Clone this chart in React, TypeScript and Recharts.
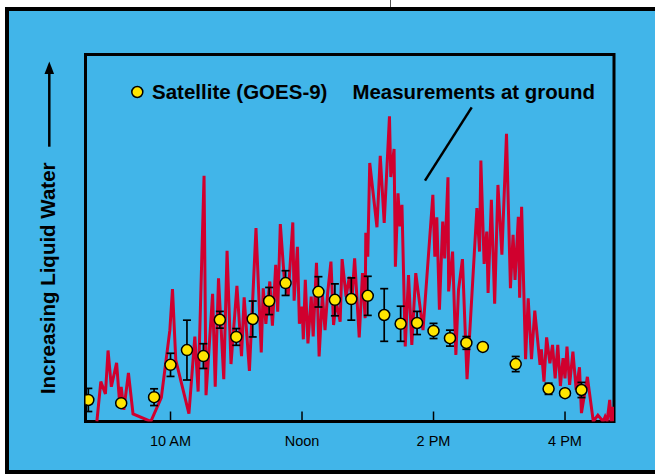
import { ComposedChart, Line, Scatter, ErrorBar, XAxis, YAxis, ReferenceArea } from 'recharts';

// ground measurements (hour of day, relative liquid water)
const groundHours = [
  8.88, 8.94, 9.01, 9.05, 9.1, 9.18, 9.22, 9.25, 9.29, 9.36, 9.43, 9.7, 9.86, 9.99, 10.03, 10.08, 10.18, 10.28,
  10.37, 10.42, 10.51, 10.54, 10.64, 10.68, 10.73, 10.81, 10.86, 10.92, 11.01, 11.08, 11.12, 11.2, 11.3, 11.38,
  11.41, 11.45, 11.51, 11.55, 11.6, 11.63, 11.67, 11.73, 11.79, 11.86, 11.88, 11.93, 11.96, 12.0, 12.02, 12.05,
  12.09, 12.14, 12.17, 12.22, 12.26, 12.31, 12.35, 12.39, 12.44, 12.48, 12.52, 12.58, 12.61, 12.67, 12.72, 12.76,
  12.8, 12.87, 12.92, 12.96, 12.97, 13.0, 13.03, 13.14, 13.19, 13.25, 13.33, 13.35, 13.4, 13.42, 13.46, 13.49,
  13.52, 13.57, 13.62, 13.67, 13.73, 13.84, 13.99, 14.02, 14.05, 14.09, 14.14, 14.17, 14.22, 14.23, 14.29, 14.34,
  14.38, 14.44, 14.51, 14.66, 14.7, 14.72, 14.77, 14.81, 14.83, 14.88, 14.93, 14.98, 15.04, 15.11, 15.17, 15.21,
  15.24, 15.29, 15.31, 15.34, 15.4, 15.44, 15.49, 15.54, 15.62, 15.64, 15.68, 15.72, 15.77, 15.81, 15.85, 15.89,
  15.93, 15.97, 16.0, 16.03, 16.07, 16.12, 16.17, 16.22, 16.25, 16.34, 16.43, 16.5, 16.58, 16.61, 16.64, 16.68,
  16.7, 16.73, 16.74,
];
const groundWater = [
  0, 10.0, 6.9, 17.8, 8.7, 14.7, 5.9, 8.7, 2.9, 12.2, 1.9, 0, 6.0, 22.9, 33.2, 15.4, 8.7, 2.0,
  21.3, 7.5, 61.6, 6.6, 32.0, 8.7, 35.9, 10.6, 42.8, 14.4, 34.0, 16.4, 31.1, 12.7, 48.5, 17.3,
  33.4, 24.5, 35.1, 24.0, 39.3, 27.5, 49.5, 35.9, 31.7, 49.9, 30.3, 43.8, 24.5, 28.8, 20.6, 35.5,
  19.6, 31.3, 21.3, 39.8, 16.3, 31.7, 22.9, 32.2, 40.1, 24.2, 30.0, 25.0, 40.7, 31.3, 36.3, 30.5,
  40.9, 21.1, 37.2, 25.9, 47.3, 41.3, 64.8, 48.7, 66.6, 49.8, 76.5, 61.3, 68.3, 38.8, 57.2, 48.9,
  54.3, 18.8, 36.7, 19.2, 37.2, 22.9, 56.8, 41.3, 51.2, 28.0, 50.1, 40.9, 61.2, 32.6, 42.6, 16.7,
  33.0, 40.7, 10.6, 53.5, 42.6, 65.4, 39.5, 47.6, 32.2, 55.6, 29.5, 59.3, 41.8, 72.1, 33.4, 46.8,
  35.5, 51.3, 31.0, 53.8, 15.6, 30.9, 15.6, 27.8, 14.2, 18.1, 10.0, 21.1, 14.6, 19.2, 10.8, 19.2,
  8.9, 15.9, 10.8, 18.8, 9.2, 17.5, 7.9, 13.6, 2.1, 11.2, 0, 1.6, 0, 1.2, 0, 5.4,
  0, 3.7, 0,
];

// GOES-9 satellite retrievals every 15 minutes
const satHours = [
  8.75, 9.25, 9.75, 10, 10.25, 10.5, 10.75, 11, 11.25, 11.5, 11.75, 12.25, 12.5, 12.75, 13, 13.25, 13.5, 13.75,
  14, 14.25, 14.5, 14.75, 15.25, 15.75, 16, 16.25,
];
const satWater = [
  5.4, 4.6, 6.1, 14.2, 17.9, 16.4, 25.5, 21.2, 25.7, 30.2, 34.7, 32.5, 30.5, 30.7, 31.5, 26.7, 24.5, 24.7,
  22.7, 20.9, 19.7, 18.7, 14.4, 8.2, 7.1, 7.9,
];
const satError = [
  2.9, 0, 2.1, 2.9, 7.5, 3.1, 2.1, 2.1, 4.5, 3.4, 3.1, 3.8, 4.0, 5.3, 4.9, 6.6, 4.4, 2.9,
  1.9, 2.0, 1.6, 0, 1.9, 1.4, 0.8, 1.9,
];

const tickHours = [10, 12, 14, 16];
const tickLabels = ['10 AM', 'Noon', '2 PM', '4 PM'];

const hourDomain: [number, number] = [8.707, 16.745];
const waterDomain: [number, number] = [0, 92];

const BLUE = '#41b5e9';
const RED = '#d0002e';
const FONT = '"Liberation Sans", Arial, Helvetica, sans-serif';

const groundData = groundHours.map((t, i) => ({ t, v: groundWater[i] }));
const satData = satHours.map((t, i) => ({ t, v: satWater[i], err: satError[i] }));

function HourTick(props: any) {
  const { x, y, payload } = props;
  const label = tickLabels[tickHours.indexOf(payload.value)];
  return (
    <g>
      <line x1={x} y1={y - 10} x2={x} y2={y} stroke="#000" strokeWidth={1.5} />
      <text x={x} y={y + 24.5} textAnchor="middle" fontSize={14.5} fontFamily={FONT} fill="#000">
        {label}
      </text>
    </g>
  );
}

function SatDot(props: any) {
  const { cx, cy } = props;
  return <circle cx={cx} cy={cy} r={5.5} fill="#ffe500" stroke="#000" strokeWidth={1.5} />;
}

export default function App() {
  return (
    <div style={{ position: 'absolute', left: 0, top: 0, width: 655, height: 475, background: '#fff', overflow: 'hidden' }}>
      <div style={{ position: 'absolute', left: 390, top: 0, width: 1, height: 8, background: '#555' }} />
      <div
        style={{
          position: 'absolute',
          left: 5,
          top: 7,
          width: 670,
          height: 467,
          boxSizing: 'border-box',
          border: '4px solid #000',
          background: BLUE,
        }}
      />
      <div style={{ position: 'absolute', left: 0, top: 0 }}>
        <ComposedChart width={655} height={475} margin={{ top: 54.5, right: 41, bottom: 23.5, left: 85.5 }}>
          <XAxis
            dataKey="t"
            type="number"
            domain={hourDomain}
            allowDataOverflow
            ticks={tickHours}
            tick={<HourTick />}
            tickSize={0}
            tickMargin={0}
            axisLine={false}
            tickLine={false}
            height={30}
          />
          <YAxis type="number" domain={waterDomain} allowDataOverflow hide />
          <Line
            data={groundData}
            dataKey="v"
            type="linear"
            stroke={RED}
            strokeWidth={3}
            dot={false}
            isAnimationActive={false}
          />
          <Scatter data={satData} dataKey="v" shape={<SatDot />} isAnimationActive={false}>
            <ErrorBar dataKey="err" direction="y" width={4} stroke="#000" strokeWidth={1.7} />
          </Scatter>
          <ReferenceArea
            x1={hourDomain[0]}
            x2={hourDomain[1]}
            y1={waterDomain[0]}
            y2={waterDomain[1]}
            fill="none"
            fillOpacity={0}
            stroke="#000"
            strokeWidth={3}
            ifOverflow="visible"
          />
        </ComposedChart>
      </div>
      <svg width={655} height={475} style={{ position: 'absolute', left: 0, top: 0, pointerEvents: 'none' }}>
        <circle cx={137.3} cy={92} r={5.5} fill="#ffe500" stroke="#000" strokeWidth={1.5} />
        <text x={152} y={99} fontSize={20.5} fontWeight="bold" fontFamily={FONT} fill="#000">
          Satellite (GOES-9)
        </text>
        <text x={352.5} y={98.5} fontSize={20.4} fontWeight="bold" fontFamily={FONT} fill="#000">
          Measurements at ground
        </text>
        <line x1={471.7} y1={107.3} x2={425} y2={180.7} stroke="#000" strokeWidth={2.5} />
        <text
          x={55}
          y={278.3}
          transform="rotate(-90 55 278.3)"
          textAnchor="middle"
          fontSize={20.5}
          fontWeight="bold"
          fontFamily={FONT}
          fill="#000"
        >
          Increasing Liquid Water
        </text>
        <line x1={49.3} y1={146.7} x2={49.3} y2={70} stroke="#000" strokeWidth={2.5} />
        <polygon points="49.3,61.5 44.5,74 54.1,74" fill="#000" />
      </svg>
    </div>
  );
}
